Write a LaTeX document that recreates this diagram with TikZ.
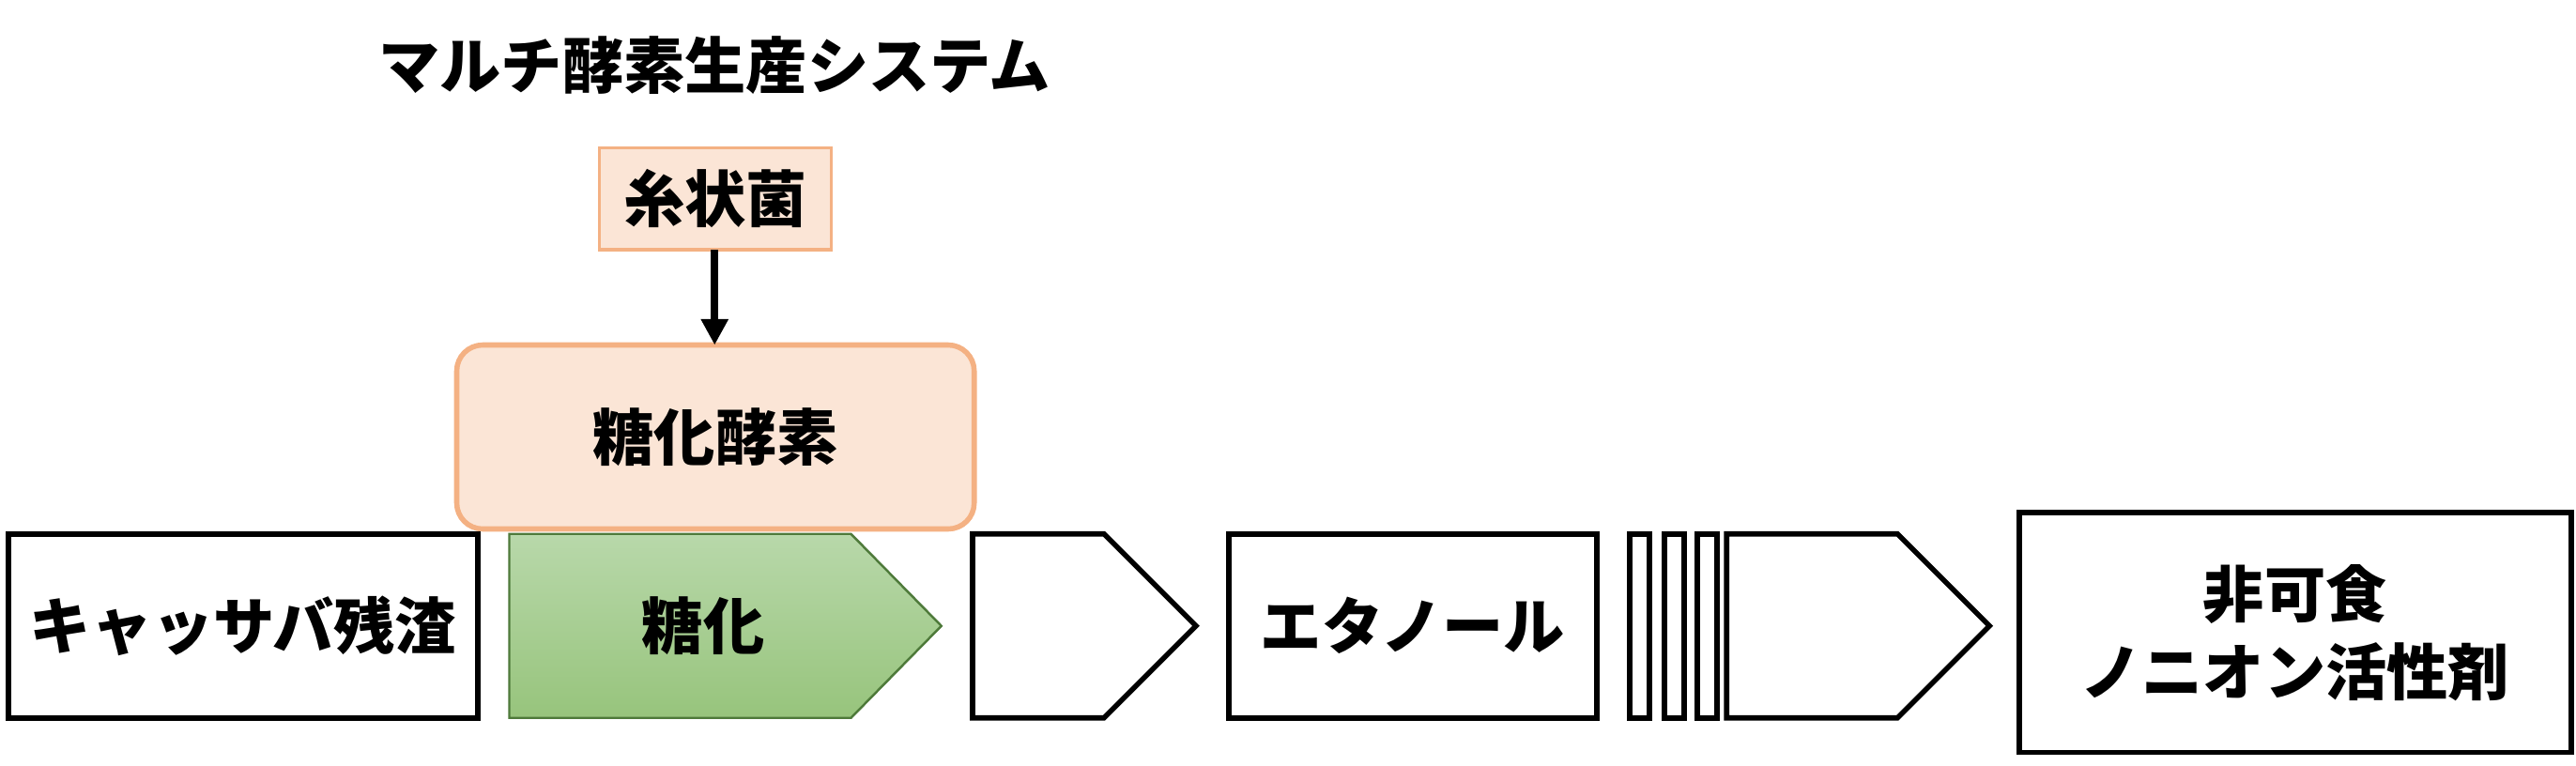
\documentclass[tikz,border=0pt]{standalone}
\usepackage{fontspec}
\setmainfont{Noto Sans CJK JP}[BoldFont={Noto Sans CJK JP Black}]
\usetikzlibrary{arrows.meta}
\definecolor{peach}{HTML}{FBE5D6}
\definecolor{peachb}{HTML}{F4B183}
\definecolor{gtop}{HTML}{B8D8AA}
\definecolor{gbot}{HTML}{97C47C}
\definecolor{gbord}{HTML}{4E7A3A}
\begin{document}
\begin{tikzpicture}[x=0.01cm,y=-0.01cm,
  txt/.style={font=\fontsize{10.6}{13.5}\selectfont\bfseries, align=center},
  wbox/.style={draw=black, line width=0.9pt, fill=white}]
\useasboundingbox (0,0) rectangle (1568,466);
\node[txt] (title) at (435,40) {マルチ酵素生産システム};
\draw[draw=peachb, fill=peach, line width=0.5pt] (365,90) rectangle (506,152);
\node[txt] (fungi) at (435.5,121) {糸状菌};
\draw[draw=peachb, fill=peach, line width=0.9pt, rounded corners=4.5pt] (278,210) rectangle (593,322);
\node[txt] (enz) at (435.5,266) {糖化酵素};
\coordinate (fb) at (435,152);
\coordinate (et) at (435,210);
\draw[line width=1.3pt, -{Triangle[length=4.5pt,width=4.5pt]}] (fb) -- (et);
\draw[wbox] (5,325) rectangle (291,437);
\node[txt] (cas) at (148,381) {キャッサバ残渣};
\shade[top color=gtop, bottom color=gbot] (310,325) -- (518,325) -- (573,381) -- (518,437) -- (310,437) -- cycle;
\draw[gbord, line width=0.4pt] (310,325) -- (518,325) -- (573,381) -- (518,437) -- (310,437) -- cycle;
\node[txt] (sacc) at (428,381) {糖化};
\draw[wbox] (592,325) -- (672,325) -- (728,381) -- (672,437) -- (592,437) -- cycle;
\draw[wbox] (748,325) rectangle (972,437);
\node[txt] (eth) at (860,381) {エタノール};
\draw[wbox] (992,325) rectangle (1004,437);
\draw[wbox] (1013,325) rectangle (1025,437);
\draw[wbox] (1033,325) rectangle (1045,437);
\draw[wbox] (1051,325) -- (1155,325) -- (1211,381) -- (1155,437) -- (1051,437) -- cycle;
\draw[wbox] (1229,312) rectangle (1565,458);
\node[txt] (prod) at (1397,385) {非可食\\ノニオン活性剤};
\end{tikzpicture}
\end{document}
